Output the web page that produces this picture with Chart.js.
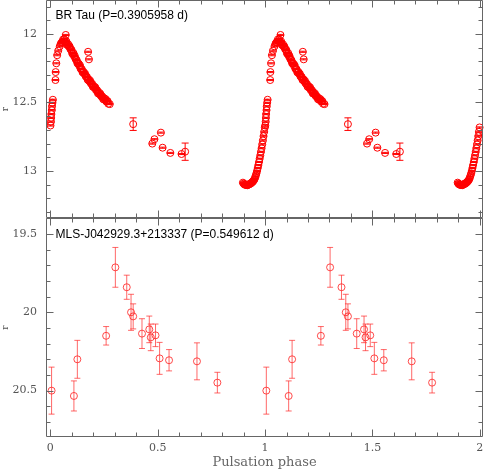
<!DOCTYPE html>
<html>
<head>
<meta charset="utf-8">
<script src="https://cdn.jsdelivr.net/npm/chart.js@4.4.1/dist/chart.umd.min.js"></script>
<style>
  html, body { margin: 0; padding: 0; background: #fff; }
</style>
</head>
<body>
<canvas id="lc" width="485" height="470"></canvas>
<script>
const brTitle = 'BR Tau (P=0.3905958 d)';
const mlsTitle = 'MLS-J042929.3+213337 (P=0.549612 d)';
const xTicks = [0, 0.5, 1, 1.5, 2];
const brTicks = [12, 12.5, 13];
const mlsTicks = [19.5, 20, 20.5];

// BR Tau: minimum + rising branch
const brRisePhase = [0.897, 0.900, 0.903, 0.906, 0.909, 0.912, 0.915, 0.918, 0.921, 0.924,
  0.927, 0.930, 0.933, 0.936, 0.939, 0.942, 0.945, 0.948, 0.951, 0.954,
  0.957, 0.960, 0.963, 0.966, 0.969, 0.972, 0.975, 0.978, 0.981, 0.984,
  0.987, 0.990, 0.993, 0.996, 0.999,
  0.001, 0.003, 0.004, 0.005, 0.007, 0.008, 0.010, 0.012,
  0.024, 0.025, 0.028, 0.032, 0.037, 0.044, 0.049, 0.053];
const brRiseMag = [13.085, 13.092, 13.096, 13.100, 13.098, 13.103, 13.101, 13.104, 13.100, 13.099,
  13.096, 13.094, 13.090, 13.088, 13.083, 13.079, 13.074, 13.067, 13.060, 13.047,
  13.033, 13.017, 12.999, 12.978, 12.957, 12.934, 12.910, 12.886, 12.860, 12.834,
  12.806, 12.777, 12.746, 12.714, 12.682,
  12.668, 12.640, 12.612, 12.585, 12.556, 12.528, 12.502, 12.480,
  12.336, 12.278, 12.214, 12.155, 12.122, 12.090, 12.070, 12.062];

// BR Tau: maximum + declining branch
const brFallPhase = [0.056, 0.060, 0.063, 0.066, 0.069, 0.072, 0.075, 0.078, 0.081, 0.084,
  0.087, 0.090, 0.093, 0.096, 0.099, 0.102, 0.105, 0.108, 0.111, 0.114,
  0.117, 0.120, 0.123, 0.126, 0.129, 0.132, 0.135, 0.138, 0.141, 0.144,
  0.147, 0.150, 0.153, 0.156, 0.159, 0.162, 0.165, 0.168, 0.171, 0.174,
  0.177, 0.180, 0.183, 0.186, 0.189, 0.192, 0.195, 0.198, 0.201, 0.204,
  0.207, 0.210, 0.213, 0.216, 0.219, 0.222, 0.225, 0.228, 0.231, 0.234,
  0.237, 0.240, 0.243, 0.246, 0.249, 0.252, 0.255, 0.258, 0.261, 0.264,
  0.267, 0.270, 0.277];
const brFallMag = [12.059, 12.040, 12.052, 12.040, 12.060, 12.060, 12.054, 12.079, 12.082, 12.076,
  12.092, 12.090, 12.109, 12.115, 12.116, 12.141, 12.147, 12.140, 12.162, 12.160,
  12.180, 12.188, 12.191, 12.213, 12.217, 12.216, 12.232, 12.228, 12.253, 12.254,
  12.258, 12.279, 12.282, 12.278, 12.292, 12.290, 12.310, 12.310, 12.314, 12.334,
  12.337, 12.332, 12.347, 12.342, 12.361, 12.364, 12.364, 12.385, 12.387, 12.382,
  12.394, 12.390, 12.410, 12.410, 12.412, 12.433, 12.435, 12.428, 12.442, 12.438,
  12.455, 12.456, 12.458, 12.475, 12.477, 12.470, 12.482, 12.476, 12.493, 12.490,
  12.490, 12.509, 12.512];

// points off the curve
const brOddPhase = [0.072, 0.176, 0.180];
const brOddMag = [12.007, 12.130, 12.185];

// sparse points after the decline
const brSparsePhase = [0.386, 0.475, 0.485, 0.515, 0.523, 0.559, 0.611, 0.628];
const brSparseMag = [12.658, 12.800, 12.768, 12.720, 12.830, 12.868, 12.876, 12.859];
const brSparseErr = [0.046, 0.004, 0.004, 0.004, 0.004, 0.004, 0.004, 0.063];
const brSmallErr = 0.004;

// MLS-J042929.3+213337
const mlsPhase = [0.006, 0.110, 0.126, 0.260, 0.303, 0.356, 0.376, 0.386, 0.427, 0.461,
  0.468, 0.490, 0.509, 0.553, 0.683, 0.778];
const mlsMag = [20.500, 20.534, 20.300, 20.150, 19.713, 19.840, 20.000, 20.026, 20.136, 20.109,
  20.160, 20.147, 20.294, 20.306, 20.313, 20.449];
const mlsErr = [0.150, 0.096, 0.121, 0.059, 0.127, 0.077, 0.115, 0.080, 0.095, 0.085,
  0.085, 0.072, 0.102, 0.068, 0.118, 0.066];

const brPhase = [...brRisePhase, ...brFallPhase, ...brOddPhase, ...brSparsePhase];
const brMag = [...brRiseMag, ...brFallMag, ...brOddMag, ...brSparseMag];
const brErr = [...brRisePhase.map(() => brSmallErr), ...brFallPhase.map(() => brSmallErr),
  ...brOddPhase.map(() => brSmallErr), ...brSparseErr];

// each light curve is shown over two cycles
function twoCycles(ph, mag, err) {
  const pts = [], errs = [];
  for (const c of [0, 1]) {
    ph.forEach((p, i) => { pts.push({x: p + c, y: mag[i]}); errs.push(err[i]); });
  }
  return {pts, errs};
}
const br = twoCycles(brPhase, brMag, brErr);
const mls = twoCycles(mlsPhase, mlsMag, mlsErr);

const frameColor = '#666';
const tickFont = {family: 'DejaVu Serif', size: 11};

const errorBars = {
  id: 'errorBars',
  afterDatasetsDraw(chart) {
    const ctx = chart.ctx;
    chart.data.datasets.forEach((ds, i) => {
      const meta = chart.getDatasetMeta(i);
      const ys = chart.scales[ds.yAxisID];
      ctx.save();
      ctx.strokeStyle = ds.errColor;
      ctx.lineWidth = 1;
      meta.data.forEach((pt, j) => {
        const v = ds.data[j].y, e = ds.errs[j];
        const y1 = ys.getPixelForValue(v - e), y2 = ys.getPixelForValue(v + e);
        const c = ds.capHalf;
        ctx.beginPath();
        ctx.moveTo(pt.x, y1); ctx.lineTo(pt.x, y2);
        ctx.moveTo(pt.x - c, y1); ctx.lineTo(pt.x + c, y1);
        ctx.moveTo(pt.x - c, y2); ctx.lineTo(pt.x + c, y2);
        ctx.stroke();
      });
      ctx.restore();
    });
  }
};

const frames = {
  id: 'frames',
  afterDraw(chart) {
    const {ctx, chartArea: a, scales} = chart;
    const xs = scales.x;
    const L = Math.round(a.left) + 0.5, R = Math.round(a.right) - 0.5;
    ctx.save();
    ctx.strokeStyle = frameColor;
    ctx.lineWidth = 1;
    for (const id of ['yTop', 'yBot']) {
      const ys = scales[id];
      const T = Math.round(ys.top) + 0.5, B = Math.round(ys.bottom) - 0.5;
      ctx.beginPath();
      ctx.rect(L, T, R - L, B - T);
      for (let k = 0; k <= 20; k++) {
        const px = Math.round(xs.getPixelForValue(k / 10)) + 0.5;
        const len = k % 5 === 0 ? 7 : 4;
        ctx.moveTo(px, B); ctx.lineTo(px, B - len);
        ctx.moveTo(px, T); ctx.lineTo(px, T + len);
      }
      const k0 = Math.ceil(ys.min * 10 - 1e-6), k1 = Math.floor(ys.max * 10 + 1e-6);
      for (let k = k0; k <= k1; k++) {
        const py = Math.round(ys.getPixelForValue(k / 10)) + 0.5;
        const len = k % 5 === 0 ? 7 : 4;
        ctx.moveTo(L, py); ctx.lineTo(L + len, py);
        ctx.moveTo(R, py); ctx.lineTo(R - len, py);
      }
      ctx.stroke();
    }
    ctx.fillStyle = '#000';
    ctx.font = '12px "Liberation Sans", Arial, sans-serif';
    ctx.textBaseline = 'middle';
    ctx.fillText(brTitle, a.left + 9.5, scales.yTop.top + 16);
    ctx.fillText(mlsTitle, a.left + 9.5, scales.yBot.top + 16.5);
    ctx.restore();
  }
};

// keep the plot area fixed: no extra room for half tick labels
function noPad(s) {
  s.paddingTop = 0; s.paddingBottom = 0; s.paddingLeft = 0; s.paddingRight = 0;
}

function yScale(weight, stackWeight, min, max, ticks) {
  return {
    type: 'linear', position: 'left', stack: 'panels', stackWeight: stackWeight, weight: weight,
    reverse: true, min: min, max: max,
    grid: {display: false, drawTicks: false}, border: {display: false},
    afterBuildTicks: s => { s.ticks = ticks.map(v => ({value: v})); },
    afterFit: s => { s.width = 46; noPad(s); },
    ticks: {padding: 9, color: '#555', font: tickFont, callback: v => String(v)},
    title: {display: true, text: 'r', color: '#555', font: {family: 'DejaVu Serif', size: 9}, padding: 0}
  };
}

new Chart(document.getElementById('lc'), {
  type: 'scatter',
  data: {
    datasets: [{
      label: 'BR Tau',
      data: br.pts, errs: br.errs, yAxisID: 'yTop',
      errColor: '#ff0000', capHalf: 3.5,
      pointStyle: 'circle', pointRadius: 3.5, pointBorderWidth: 1,
      pointBorderColor: '#ff0000', pointBackgroundColor: 'rgba(0,0,0,0)', clip: false
    }, {
      label: 'MLS-J042929.3+213337',
      data: mls.pts, errs: mls.errs, yAxisID: 'yBot',
      errColor: 'rgba(255,40,40,0.7)', capHalf: 3,
      pointStyle: 'circle', pointRadius: 3.5, pointBorderWidth: 1,
      pointBorderColor: 'rgba(255,30,30,0.8)', pointBackgroundColor: 'rgba(0,0,0,0)', clip: false
    }]
  },
  options: {
    responsive: false,
    animation: false,
    events: [],
    layout: {autoPadding: false, padding: {top: 0, right: 2, bottom: 0, left: 0}},
    plugins: {legend: {display: false}, tooltip: {enabled: false}},
    scales: {
      x: {
        type: 'linear', min: -0.02, max: 2.015,
        grid: {display: false, drawTicks: false}, border: {display: false},
        afterBuildTicks: s => { s.ticks = xTicks.map(v => ({value: v})); },
        afterFit: s => { s.height = 33; noPad(s); },
        ticks: {padding: 5, color: '#555', font: tickFont, maxRotation: 0, autoSkip: false, callback: v => String(v)},
        title: {display: true, text: 'Pulsation phase', color: '#666', font: {family: 'DejaVu Serif', size: 13}, padding: 0}
      },
      yBot: yScale(0, 219, 19.398, 20.796, mlsTicks),
      yTop: yScale(1, 218, 11.752, 13.343, brTicks)
    }
  },
  plugins: [errorBars, frames]
});
</script>
</body>
</html>
